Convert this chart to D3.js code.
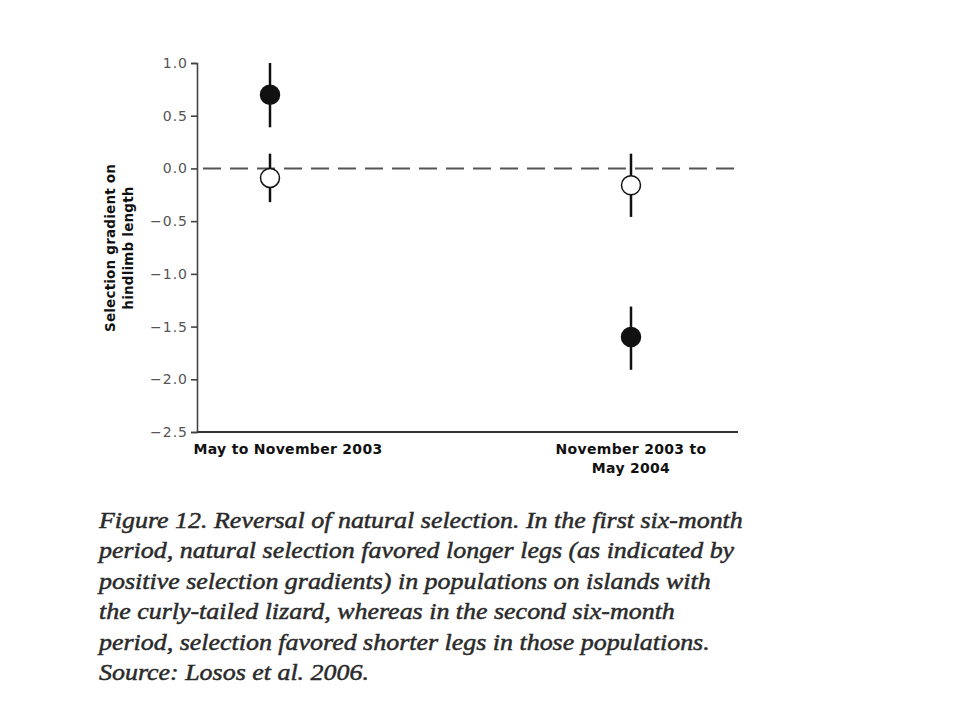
<!DOCTYPE html>
<html><head><meta charset="utf-8">
<script src="https://cdn.jsdelivr.net/npm/d3@7"></script>
<style>body{margin:0;background:#fff}</style>
</head><body>
<svg id="c" width="960" height="720"></svg>
<script>
const categories = ["May to November 2003", "November 2003 to\nMay 2004"];
const filledMean = [0.70, -1.60];
const filledLow = [0.39, -1.91];
const filledHigh = [1.00, -1.31];
const openMean = [-0.09, -0.16];
const openLow = [-0.32, -0.46];
const openHigh = [0.14, 0.14];
const yTicks = [1.0, 0.5, 0.0, -0.5, -1.0, -1.5, -2.0, -2.5];
const yLabel = ["Selection gradient on", "hindlimb length"];
const caption = [
  "Figure 12. Reversal of natural selection. In the first six-month",
  "period, natural selection favored longer legs (as indicated by",
  "positive selection gradients) in populations on islands with",
  "the curly-tailed lizard, whereas in the second six-month",
  "period, selection favored shorter legs in those populations.",
  "Source: Losos et al. 2006."
];

const svg = d3.select("#c");
const pLeft = 197, pRight = 738, pTop = 63, pBottom = 432;
const y = d3.scaleLinear().domain([-2.5, 1.0]).range([pBottom, pTop]);
const x = d3.scalePoint().domain(categories).range([270, 631]);

// zero dashed line
svg.append("line").attr("x1", pLeft + 6).attr("x2", pRight).attr("y1", y(0)).attr("y2", y(0))
  .attr("stroke", "#555").attr("stroke-width", 2).attr("stroke-dasharray", "18,9");

// y axis
const yAxis = svg.append("g").attr("transform", `translate(${pLeft},0)`)
  .call(d3.axisLeft(y).tickValues(yTicks).tickFormat(d3.format(".1f")).tickSize(6).tickPadding(3));
yAxis.select(".domain").attr("stroke", "#444").attr("stroke-width", 1.6);
yAxis.selectAll(".tick line").attr("stroke", "#444").attr("stroke-width", 1.6);
yAxis.selectAll(".tick text").attr("font-family", "DejaVu Sans, sans-serif")
  .attr("font-size", 14).attr("letter-spacing", 1).attr("fill", "#555");

// x axis line
svg.append("line").attr("x1", pLeft).attr("x2", pRight).attr("y1", pBottom).attr("y2", pBottom)
  .attr("stroke", "#333").attr("stroke-width", 1.8);

// x labels
const xl = svg.append("g").attr("font-family", "DejaVu Sans, sans-serif")
  .attr("font-size", 14).attr("font-weight", "bold").attr("fill", "#111").attr("letter-spacing", 0.3);
categories.forEach((c, i) => {
  const lines = c.split("\n");
  lines.forEach((l, j) => {
    xl.append("text")
      .attr("x", i === 0 ? x(c) + 18 : x(c))
      .attr("y", 454 + j * 19)
      .attr("text-anchor", "middle").text(l);
  });
});

// y label
const yl = svg.append("g").attr("font-family", "DejaVu Sans, sans-serif")
  .attr("font-size", 13.5).attr("font-weight", "bold").attr("fill", "#111").attr("letter-spacing", 0.2);
yLabel.forEach((l, j) => {
  yl.append("text").attr("transform", `translate(${115 + j * 18},248) rotate(-90)`)
    .attr("text-anchor", "middle").text(l);
});

// error bars & points
function drawSeries(mean, low, high, fill) {
  const g = svg.append("g");
  g.selectAll("line").data(categories).join("line")
    .attr("x1", d => x(d)).attr("x2", d => x(d))
    .attr("y1", (d, i) => y(high[i])).attr("y2", (d, i) => y(low[i]))
    .attr("stroke", "#111").attr("stroke-width", 2.5);
  g.selectAll("circle").data(categories).join("circle")
    .attr("cx", d => x(d)).attr("cy", (d, i) => y(mean[i])).attr("r", 9.5)
    .attr("fill", fill).attr("stroke", "#111").attr("stroke-width", 1.5);
}
drawSeries(openMean, openLow, openHigh, "#fff");
drawSeries(filledMean, filledLow, filledHigh, "#111");

// caption
const capOuter = svg.append("g").attr("transform", "translate(99,0)");
const cap = capOuter.append("g").attr("font-family", "Liberation Serif, Times New Roman, serif")
  .attr("font-style", "italic").attr("font-size", 24).attr("fill", "#2a2a2a")
  .attr("stroke", "#2a2a2a").attr("stroke-width", 0.5);
const capTexts = caption.map((l, j) =>
  cap.append("text").attr("x", 0).attr("y", 528 + j * 30.5).text(l));
const w0 = capTexts[0].node().getComputedTextLength();
const sx = w0 > 0 ? 644 / w0 : 1;
cap.attr("transform", `scale(${sx},1)`);
</script>
</body></html>
